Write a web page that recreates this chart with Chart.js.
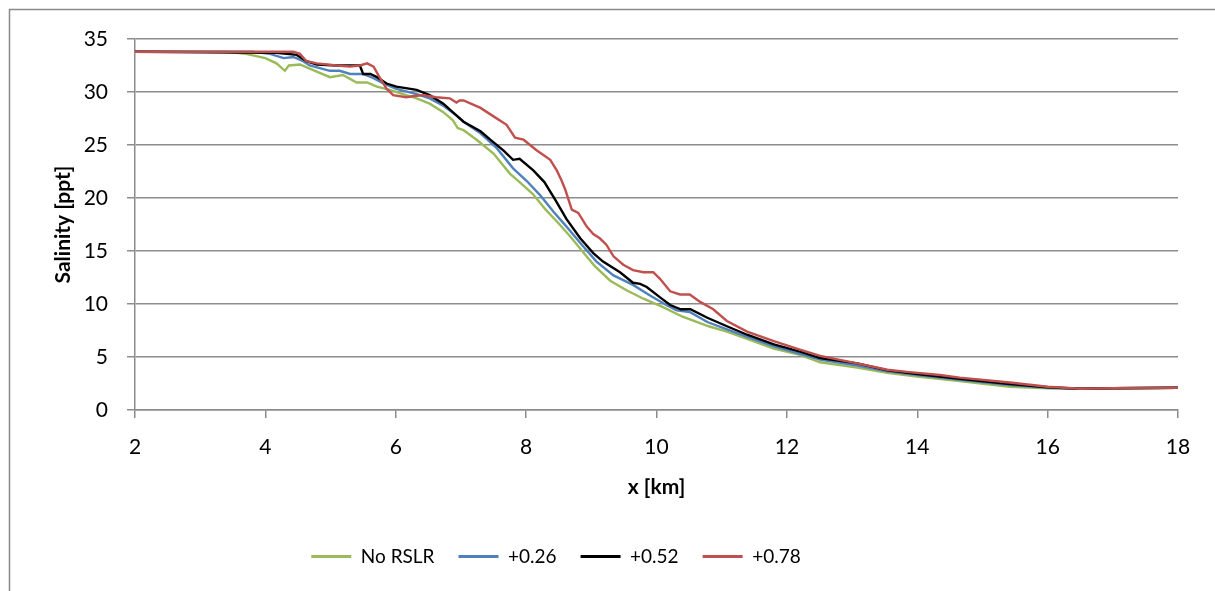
<!DOCTYPE html>
<html>
<head>
<meta charset="utf-8">
<script src="https://cdn.jsdelivr.net/npm/chart.js@4.4.1/dist/chart.umd.min.js"></script>
<style>
  html, body { margin: 0; padding: 0; background: #fff; }
  #wrap { width: 1215px; height: 591px; }
</style>
</head>
<body>
<div id="wrap"><canvas id="chart" width="1215" height="591"></canvas></div>
<script>
// distance along the estuary (km) and salinity (ppt)
const xNoRslr = [2, 3.4, 3.7, 4.0, 4.17, 4.3, 4.36, 4.53, 4.68, 4.99, 5.19, 5.4, 5.56, 5.71, 5.91, 6.11, 6.32, 6.52, 6.73, 6.88, 6.95, 7.04, 7.24, 7.5, 7.75, 7.9, 8.1, 8.3, 8.5, 8.7, 8.9, 9.05, 9.29, 9.54, 9.8, 10.1, 10.4, 10.8, 11.08, 11.39, 11.8, 12.2, 12.51, 13.08, 13.54, 14.0, 14.65, 15.42, 16.0, 16.5, 17.0, 18];
const sNoRslr = [33.8, 33.8, 33.6, 33.2, 32.7, 32.0, 32.5, 32.6, 32.2, 31.4, 31.6, 30.9, 30.9, 30.5, 30.2, 29.8, 29.4, 28.9, 28.1, 27.3, 26.6, 26.4, 25.5, 24.2, 22.3, 21.5, 20.4, 18.9, 17.6, 16.2, 14.7, 13.6, 12.2, 11.3, 10.5, 9.7, 8.8, 7.9, 7.4, 6.7, 5.8, 5.2, 4.5, 4.0, 3.5, 3.15, 2.72, 2.2, 2.05, 2.0, 2.05, 2.1];

const x026 = [2, 3.8, 4.07, 4.28, 4.43, 4.58, 4.68, 4.99, 5.14, 5.3, 5.5, 5.66, 5.81, 6.01, 6.32, 6.52, 6.73, 6.93, 7.04, 7.3, 7.55, 7.8, 8.01, 8.21, 8.42, 8.62, 8.88, 9.08, 9.34, 9.64, 9.9, 10.15, 10.31, 10.51, 10.78, 11.08, 11.39, 11.8, 12.2, 12.51, 13.08, 13.54, 14.0, 14.65, 15.42, 16.0, 16.5, 17.0, 18];
const s026 = [33.8, 33.8, 33.6, 33.2, 33.3, 32.9, 32.5, 32.0, 32.0, 31.7, 31.7, 31.3, 30.8, 30.3, 29.8, 29.4, 28.7, 27.8, 27.2, 26.1, 24.7, 22.8, 21.6, 20.3, 18.7, 17.3, 15.4, 14.0, 12.7, 11.8, 10.8, 9.9, 9.4, 9.25, 8.3, 7.6, 6.9, 6.0, 5.3, 4.75, 4.2, 3.65, 3.3, 2.85, 2.35, 2.1, 2.0, 2.05, 2.1];

const x052 = [2, 4.17, 4.48, 4.63, 4.79, 5.09, 5.45, 5.5, 5.61, 5.71, 5.86, 6.01, 6.32, 6.52, 6.73, 6.93, 7.04, 7.3, 7.45, 7.65, 7.8, 7.9, 8.11, 8.28, 8.45, 8.62, 8.83, 9.03, 9.18, 9.44, 9.64, 9.75, 9.85, 10.06, 10.21, 10.37, 10.52, 10.78, 11.08, 11.39, 11.8, 12.2, 12.51, 13.08, 13.54, 14.0, 14.65, 15.42, 16.0, 16.5, 17.0, 18];
const s052 = [33.8, 33.7, 33.5, 32.9, 32.6, 32.5, 32.5, 31.7, 31.7, 31.4, 30.8, 30.5, 30.2, 29.7, 28.9, 27.8, 27.2, 26.3, 25.5, 24.5, 23.6, 23.7, 22.6, 21.5, 19.8, 18.0, 16.2, 14.8, 14.0, 13.0, 12.0, 11.9, 11.6, 10.6, 9.9, 9.5, 9.5, 8.7, 7.9, 7.1, 6.2, 5.5, 4.9, 4.4, 3.75, 3.4, 2.95, 2.45, 2.15, 2.0, 2.05, 2.1];

const x078 = [2, 4.43, 4.53, 4.63, 4.79, 5.09, 5.3, 5.45, 5.56, 5.66, 5.76, 5.86, 5.96, 6.16, 6.26, 6.42, 6.62, 6.83, 6.93, 6.98, 7.04, 7.3, 7.5, 7.7, 7.83, 7.96, 8.16, 8.37, 8.47, 8.54, 8.6, 8.7, 8.8, 8.93, 9.03, 9.13, 9.23, 9.34, 9.49, 9.64, 9.8, 9.95, 10.05, 10.21, 10.36, 10.51, 10.67, 10.87, 11.08, 11.39, 11.8, 12.2, 12.51, 13.08, 13.54, 13.84, 14.35, 14.65, 15.42, 16.0, 16.5, 17.0, 18];
const s078 = [33.8, 33.8, 33.6, 32.9, 32.7, 32.5, 32.4, 32.5, 32.7, 32.4, 31.3, 30.3, 29.7, 29.5, 29.6, 29.7, 29.5, 29.4, 29.0, 29.2, 29.2, 28.5, 27.7, 26.9, 25.7, 25.5, 24.5, 23.6, 22.6, 21.7, 20.8, 18.9, 18.6, 17.3, 16.6, 16.2, 15.6, 14.5, 13.7, 13.2, 13.0, 13.0, 12.4, 11.2, 10.9, 10.9, 10.2, 9.5, 8.4, 7.4, 6.5, 5.7, 5.1, 4.4, 3.8, 3.6, 3.3, 3.05, 2.6, 2.2, 2.0, 2.05, 2.1];

const seriesNames = ['No RSLR', '+0.26', '+0.52', '+0.78'];
const seriesColors = ['#9bbb59', '#4f81bd', '#000000', '#c0504d'];

function toPoints(xs, ys) {
  return xs.map((x, i) => ({ x: x, y: ys[i] }));
}

const seriesData = [
  toPoints(xNoRslr, sNoRslr),
  toPoints(x026, s026),
  toPoints(x052, s052),
  toPoints(x078, s078)
];

// white page and the grey outer frame of the chart object
const framePlugin = {
  id: 'frame',
  afterLayout(chart) {
    // the legend sits left of the canvas centre in the original
    chart.legend.right -= 76;
  },
  beforeDraw(chart) {
    const ctx = chart.ctx;
    ctx.save();
    ctx.fillStyle = '#fff';
    ctx.fillRect(0, 0, chart.width, chart.height);
    ctx.strokeStyle = '#898989';
    ctx.lineWidth = 1.5;
    ctx.strokeRect(9.5, 9.5, chart.width + 50, chart.height + 50);
    ctx.restore();
  }
};

Chart.defaults.font.family = 'Lato';
Chart.defaults.color = '#000';

const gridGrey = '#8c8c8c';

new Chart(document.getElementById('chart'), {
  type: 'line',
  data: {
    datasets: seriesNames.map((name, i) => ({
      label: name,
      data: seriesData[i],
      borderColor: seriesColors[i],
      backgroundColor: seriesColors[i],
      borderWidth: 2.4,
      pointRadius: 0,
      tension: 0,
      fill: false,
      order: seriesNames.length - i   // red drawn on top
    }))
  },
  options: {
    responsive: false,
    animation: false,
    layout: { padding: { left: 10, right: 37, top: 39, bottom: 15 } },
    scales: {
      x: {
        type: 'linear',
        min: 2,
        max: 18,
        ticks: { stepSize: 2, font: { size: 21 }, padding: 17 },
        grid: { drawOnChartArea: false, drawTicks: true, tickLength: 8, color: gridGrey, lineWidth: 1.5 },
        border: { color: gridGrey, width: 1.5 },
        title: { display: true, text: 'x [km]', font: { size: 21, weight: 'bold' }, padding: { top: 4, bottom: 23 } },
        afterFit: (scale) => { scale.height = 113; }
      },
      y: {
        min: 0,
        max: 35,
        ticks: { stepSize: 5, font: { size: 21 }, padding: 19 },
        grid: { drawTicks: true, tickLength: 8, color: gridGrey, lineWidth: 1.5 },
        border: { color: gridGrey, width: 1.5 },
        title: { display: true, text: 'Salinity [ppt]', font: { size: 21, weight: 'bold' }, padding: { top: 41, bottom: 0 } },
        afterFit: (scale) => { scale.width = 125; }
      }
    },
    plugins: {
      legend: {
        position: 'bottom',
        labels: {
          boxWidth: 40,
          boxHeight: 3,
          padding: 24,
          font: { size: 19 },
          sort: (a, b) => a.datasetIndex - b.datasetIndex,
          generateLabels(chart) {
            const items = Chart.defaults.plugins.legend.labels.generateLabels(chart);
            items.forEach(it => { it.lineWidth = 0; });
            return items;
          }
        }
      },
      tooltip: { enabled: false }
    }
  },
  plugins: [framePlugin]
});
</script>
</body>
</html>
